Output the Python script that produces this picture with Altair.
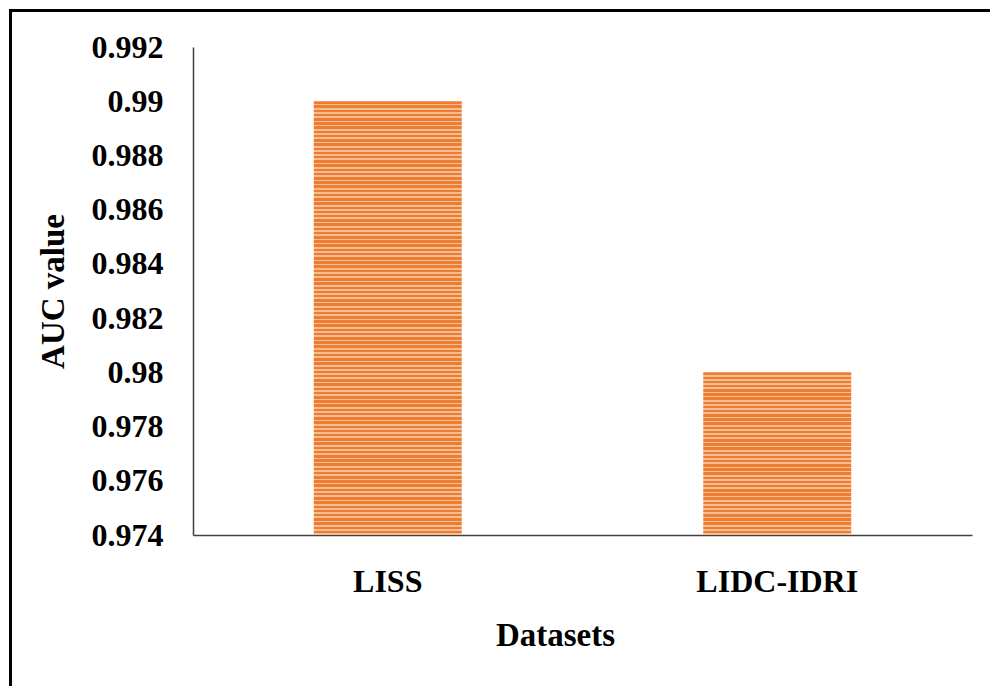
import altair as alt
import pandas as pd

# Data
datasets = ["LISS", "LIDC-IDRI"]
auc_values = [0.990, 0.980]
y_ticks = [0.974, 0.976, 0.978, 0.980, 0.982, 0.984, 0.986, 0.988, 0.990, 0.992]

Y_MIN, Y_MAX = 0.974, 0.992
PLOT_W, PLOT_H = 779, 488
FONT = "Liberation Serif"
DARK = "#ED7D31"
LIGHT = "#F7BE96"
STRIPE_PERIOD = 4.2
DARK_SHARE = 0.6

df = pd.DataFrame({"dataset": datasets, "auc": auc_values})


def striped_fill(value):
    """Vertical gradient made of hard stops, giving thin horizontal stripes."""
    bar_px = (value - Y_MIN) / (Y_MAX - Y_MIN) * PLOT_H
    n = max(1, round(bar_px / STRIPE_PERIOD))
    stops = []
    for i in range(n):
        a, b, c = i / n, (i + DARK_SHARE) / n, (i + 1) / n
        stops += [
            alt.GradientStop(offset=a, color=DARK),
            alt.GradientStop(offset=b, color=DARK),
            alt.GradientStop(offset=b, color=LIGHT),
            alt.GradientStop(offset=min(c, 1.0), color=LIGHT),
        ]
    return alt.LinearGradient(gradient="linear", stops=stops, x1=0, x2=0, y1=0, y2=1)


x_enc = alt.X(
    "dataset:N",
    sort=datasets,
    scale=alt.Scale(domain=datasets, paddingInner=0.62, paddingOuter=0.31),
    axis=alt.Axis(
        title="Datasets",
        labelAngle=0,
        ticks=False,
        labelPadding=56,
        labelBaseline="alphabetic",
        labelFontSize=32,
        titleFontSize=33,
        titleX=362,
        titleY=110,
        titleBaseline="alphabetic",
        titleAlign="center",
        domainColor="#404040",
        domainWidth=1.5,
    ),
)
y_enc = alt.Y(
    "auc:Q",
    scale=alt.Scale(domain=[Y_MIN, Y_MAX], zero=False, nice=False),
    axis=alt.Axis(
        title="AUC value",
        values=y_ticks,
        format=".3~f",
        ticks=False,
        grid=False,
        labelPadding=30,
        labelFontSize=32,
        titleFontSize=33,
        titleX=-140,
        titleY=PLOT_H / 2,
        titleAngle=-90,
        titleAlign="center",
        titleBaseline="middle",
        domainColor="#404040",
        domainWidth=1.5,
    ),
)

# Bars rise from the bottom of the axis range
base = alt.Chart(df).encode(x=x_enc, y=y_enc, y2=alt.datum(Y_MIN))

bars = [
    base.transform_filter(alt.datum.dataset == name).mark_bar(color=striped_fill(val))
    for name, val in zip(datasets, auc_values)
]

# Figure frame (top and left edges)
frame_top = alt.Chart(alt.Data(values=[{}])).mark_rule(color="black", strokeWidth=3).encode(
    x=alt.value(-182.5), x2=alt.value(800), y=alt.value(-36.5)
)
frame_left = alt.Chart(alt.Data(values=[{}])).mark_rule(color="black", strokeWidth=3).encode(
    x=alt.value(-182.5), y=alt.value(-38), y2=alt.value(650)
)

chart = (
    alt.layer(*bars, frame_top, frame_left)
    .properties(
        width=PLOT_W,
        height=PLOT_H,
        autosize=alt.AutoSizeParams(type="none"),
        padding={"left": 193, "top": 47, "right": 18, "bottom": 151},
        background="white",
    )
    .configure_view(stroke=None)
    .configure_axis(
        labelFont=FONT,
        titleFont=FONT,
        labelFontWeight="bold",
        titleFontWeight="bold",
        labelColor="black",
        titleColor="black",
    )
)

chart.save("out.html", embed_options={"renderer": "svg", "actions": False})
